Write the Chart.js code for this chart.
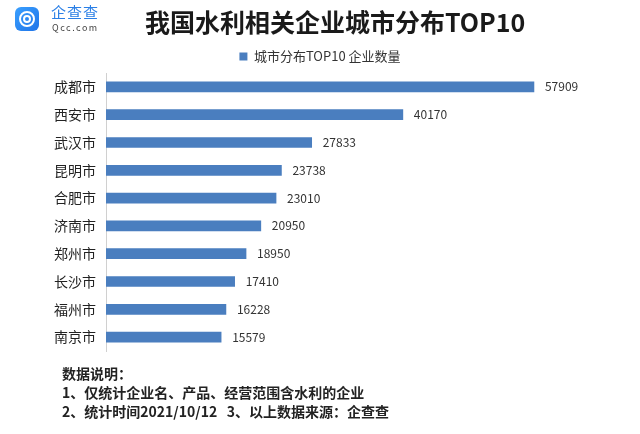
<!DOCTYPE html>
<html>
<head>
<meta charset="utf-8">
<script src="https://cdn.jsdelivr.net/npm/chart.js@4"></script>
<style>
  html, body { margin: 0; padding: 0; background: #fff; }
  #wrap { position: relative; width: 640px; height: 434px; overflow: hidden; font-family: "Noto Sans CJK SC", sans-serif; }
  #chart { position: absolute; left: 0; top: 0; }
  .logo { position: absolute; left: 15px; top: 7px; width: 24px; height: 24px; border-radius: 6px; background: linear-gradient(135deg, #3aa0ff, #1f74e8); }
  .logo:before { content: ""; position: absolute; left: 4px; top: 4px; width: 12px; height: 12px; border: 2px solid #fff; border-radius: 50%; }
  .logo:after { content: ""; position: absolute; left: 8px; top: 8px; width: 4px; height: 4px; border: 2px solid #fff; border-radius: 50%; }
  .brand { position: absolute; left: 51px; top: 3px; color: #2a7fe6; font-size: 15px; line-height: 18px; letter-spacing: 1px; }
  .brand-en { position: absolute; left: 52px; top: 23px; color: #444; font-size: 9px; letter-spacing: 1.5px; line-height: 10px; }
  .title { position: absolute; left: 145px; top: 5px; font-size: 25px; font-weight: bold; color: #1a1a1a; line-height: 32px; white-space: nowrap; }
  .note { position: absolute; left: 62px; top: 364px; font-size: 14px; font-weight: bold; color: #222; line-height: 19px; }
</style>
</head>
<body>
<div id="wrap">
  <canvas id="chart" width="640" height="434"></canvas>
  <div class="logo"></div>
  <div class="brand">企查查</div>
  <div class="brand-en">Qcc.com</div>
  <div class="title">我国水利相关企业城市分布TOP10</div>
  <div class="note">数据说明：<br>1、仅统计企业名、产品、经营范围含水利的企业<br>2、统计时间2021/10/12&nbsp;&nbsp;&nbsp;3、以上数据来源：企查查</div>
</div>
<script>
// data
const cities = ['成都市', '西安市', '武汉市', '昆明市', '合肥市', '济南市', '郑州市', '长沙市', '福州市', '南京市'];
const counts = [57909, 40170, 27833, 23738, 23010, 20950, 18950, 17410, 16228, 15579];
const seriesName = '城市分布TOP10 企业数量';

const FONT = '"Noto Sans CJK SC", sans-serif';

// value labels at bar ends
const valueLabels = {
    id: 'valueLabels',
    afterDatasetsDraw(chart) {
        const ctx = chart.ctx;
        const meta = chart.getDatasetMeta(0);
        ctx.save();
        ctx.font = '12px ' + FONT;
        ctx.fillStyle = '#333';
        ctx.textAlign = 'left';
        ctx.textBaseline = 'middle';
        meta.data.forEach((bar, i) => {
            ctx.fillText(String(counts[i]), bar.x + 11, bar.y);
        });
        ctx.restore();
    }
};

const ctx = document.getElementById('chart').getContext('2d');
new Chart(ctx, {
    type: 'bar',
    data: {
        labels: cities,
        datasets: [{
            label: seriesName,
            data: counts,
            backgroundColor: '#4a7ebf',
            barThickness: 10
        }]
    },
    options: {
        indexAxis: 'y',
        responsive: false,
        animation: false,
        layout: { padding: { left: 30, right: 30, top: 44, bottom: 83 } },
        plugins: {
            title: { display: false },
            legend: {
                display: true,
                labels: {
                    color: '#333',
                    font: { family: FONT, size: 13 },
                    boxWidth: 8,
                    boxHeight: 8,
                    padding: 6
                }
            },
            tooltip: { enabled: false }
        },
        scales: {
            x: {
                display: false,
                min: 0,
                max: 68200
            },
            y: {
                afterFit: (s) => { s.width = 76; },
                grid: { drawOnChartArea: false, drawTicks: false },
                border: { display: true, color: '#d0d0d0' },
                ticks: {
                    color: '#222',
                    padding: 10,
                    font: { family: FONT, size: 14 }
                }
            }
        }
    },
    plugins: [valueLabels]
});
</script>
</body>
</html>
